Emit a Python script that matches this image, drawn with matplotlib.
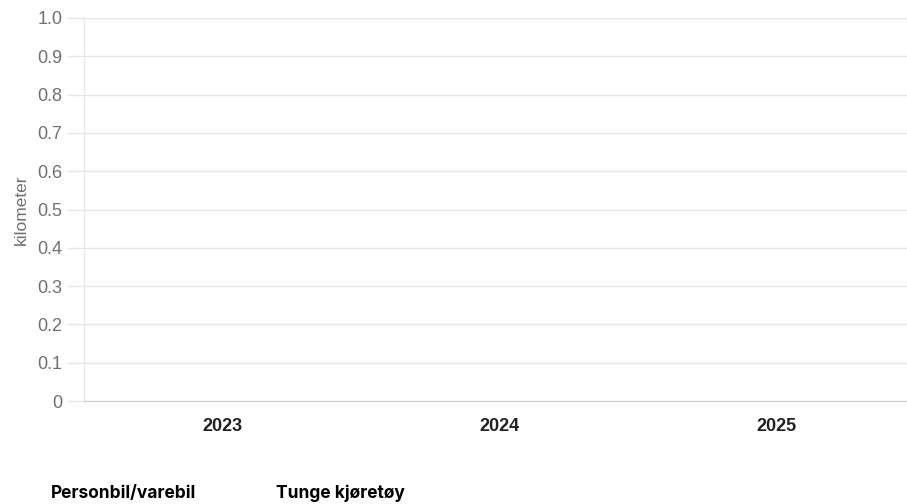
import numpy as np
import matplotlib.pyplot as plt

plt.rcParams.update({'font.family': ['Liberation Sans', 'DejaVu Sans']})

# Categories and (empty) series
years = ['2023', '2024', '2025']
personbil = []          # no values shown in the chart
tunge = []
series_labels = ['Personbil/varebil', 'Tunge kjøretøy']
y_ticks = [0, 0.1, 0.2, 0.3, 0.4, 0.5, 0.6, 0.7, 0.8, 0.9, 1.0]
y_tick_labels = ['0', '0.1', '0.2', '0.3', '0.4', '0.5', '0.6', '0.7', '0.8', '0.9', '1.0']

fig = plt.figure(figsize=(9.07, 5.04), dpi=100)
ax = fig.add_axes([84/907, 1 - 401/504, 1 - 84/907, (401 - 18)/504])

x = np.arange(len(years))
width = 0.3
h1 = ax.bar(x[:len(personbil)] - width/2, personbil, width, label=series_labels[0])
h2 = ax.bar(x[:len(tunge)] + width/2, tunge, width, label=series_labels[1])

ax.set_xlim(-0.5, 2.47)
ax.set_ylim(0, 1.0)
ax.set_xticks(x)
ax.set_xticklabels(years, fontweight='bold', fontsize=13, color='#222222')
ax.set_yticks(y_ticks)
ax.set_yticklabels(y_tick_labels, fontsize=13, color='#707070')
ax.tick_params(axis='x', length=0, pad=12)
ax.tick_params(axis='y', length=12, color='#e6e6e6', width=1, pad=3.6)
ax.grid(axis='y', color='#e6e6e6', linewidth=1)
ax.set_axisbelow(True)
for s in ['top', 'right']:
    ax.spines[s].set_visible(False)
ax.spines['left'].set_color('#e6e6e6')
ax.spines['bottom'].set_color('#cccccc')
ax.set_ylabel('kilometer', color='#707070', fontsize=12.5, labelpad=6)

leg = fig.legend(handles=[h1, h2], labels=series_labels, loc='center left',
                 bbox_to_anchor=(51/907, 1 - 493/504), ncol=2, frameon=False,
                 handlelength=0, handletextpad=0, columnspacing=4.6,
                 borderpad=0, borderaxespad=0,
                 prop={'family': ['Inter', 'DejaVu Sans'], 'weight': 'bold', 'size': 12.5})

fig.savefig('out.png', dpi=100)
